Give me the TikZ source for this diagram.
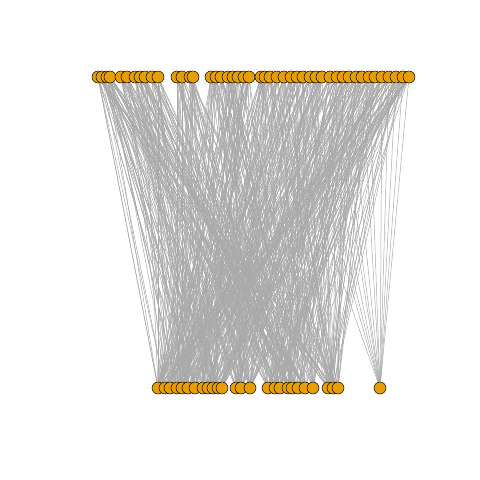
\documentclass[tikz,border=0pt]{standalone}
\usetikzlibrary{backgrounds}
\definecolor{vorange}{HTML}{E69F00}
\definecolor{edgegray}{HTML}{A9A9A9}
\begin{document}
\begin{tikzpicture}[x=1pt,y=-1pt,
  vtx/.style={circle,draw=black,fill=vorange,line width=0.5pt,minimum size=12pt,inner sep=0pt},
  edge/.style={draw=edgegray,line width=0.5pt}]
\useasboundingbox (0,0) rectangle (480,480);
\foreach \x [count=\i] in {98,102,107,110,121,127,135,140,145,152,158,177,182,190,193,211,216,221,228,233,238,244,249,261,265,270,277,284,291,297,303,310,316,322,330,337,343,349,356,362,369,375,382,389,396,403,409}
  \node[vtx] (t\i) at (\x,77) {};
\foreach \x [count=\i] in {158,165,170,177,182,188,195,203,208,213,218,222,236,241,250,268,275,280,288,292,298,305,313,328,333,338,380}
  \node[vtx] (b\i) at (\x,388) {};
\pgfmathsetseed{42}
\begin{pgfonlayer}{background}
\foreach \i in {1,...,47} {
  \foreach \k in {1,...,13} {
    \pgfmathtruncatemacro{\j}{random(1,26)}
    \draw[edge] (t\i.center) -- (b\j.center);
  }
}
\foreach \i in {26,29,31,33,35,36,38,40,41,43,44,45,46,47}
  \draw[edge] (t\i.center) -- (b27.center);
\end{pgfonlayer}
\end{tikzpicture}
\end{document}
